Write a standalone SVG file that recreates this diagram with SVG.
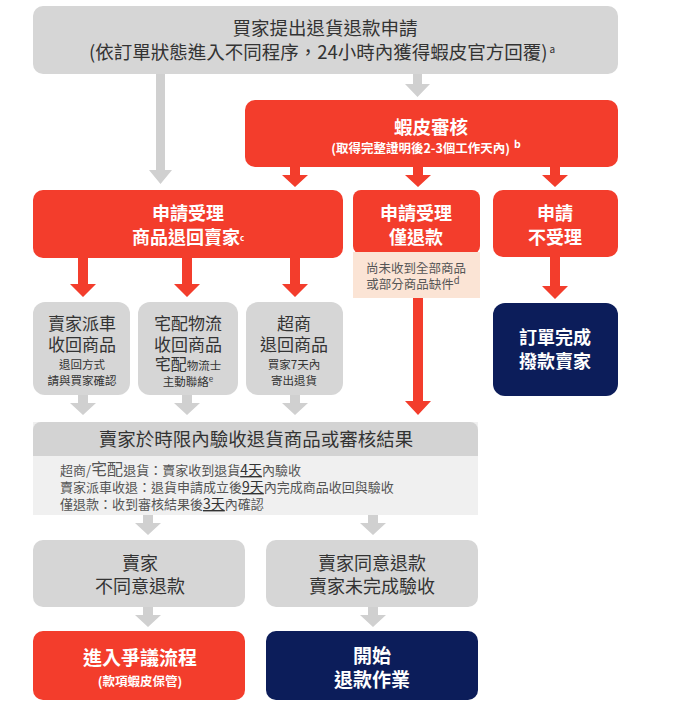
<svg xmlns="http://www.w3.org/2000/svg" width="679" height="726" viewBox="0 0 679 726">
<defs>
<style>
text{font-family:"Noto Sans CJK TC","Noto Sans CJK SC",sans-serif;text-anchor:middle}
.g{fill:#d6d6d6}
.r{fill:#f33d2c}
.n{fill:#0c1d5a}
.dk{fill:#333}
.w{fill:#fff;font-weight:bold}
.t18{font-size:18px}
.t17{font-size:17px}
.s11{font-size:11.5px}
.ga{fill:#d0d0d0}
.ra{fill:#f33d2c}
.l{text-anchor:start;font-size:13px;fill:#555}
.u{font-size:14px;fill:#333;text-decoration:underline}
</style>
</defs>
<rect width="679" height="726" fill="#fff"/>
<g id="connectors">
<path class="ga" d="M156 74h9v96h7l-11.5 14l-11.5-14h7z"/>
<path class="ga" d="M413 74h9v10h8l-12.5 13l-12.5-13h8z"/>
<path class="ra" d="M290 167h10v8h8l-13 12l-13-12h8z"/>
<path class="ra" d="M413 167h10v8h8l-13 12l-13-12h8z"/>
<path class="ra" d="M550 167h10v8h8l-13 12l-13-12h8z"/>
<path class="ra" d="M78 258h10v26h8l-13 13l-13-13h8z"/>
<path class="ra" d="M182 258h10v26h8l-13 13l-13-13h8z"/>
<path class="ra" d="M290 258h10v26h8l-13 13l-13-13h8z"/>
<path class="ra" d="M413 298h10v103h8l-13 14l-13-14h8z"/>
<path class="ra" d="M550 257h10v29h8l-13 13l-13-13h8z"/>
<path class="ga" d="M78 395h10v8h8l-13 12l-13-12h8z"/>
<path class="ga" d="M182 395h10v8h8l-13 12l-13-12h8z"/>
<path class="ga" d="M290 395h10v8h8l-13 12l-13-12h8z"/>
<path class="ga" d="M143 515h10v8h8l-13 12l-13-12h8z"/>
<path class="ga" d="M368 515h10v8h8l-13 12l-13-12h8z"/>
<path class="ga" d="M143 607h10v8h8l-13 12l-13-12h8z"/>
<path class="ga" d="M368 607h10v8h8l-13 12l-13-12h8z"/>
</g>
<g id="n-start">
<rect class="g" x="33" y="6" width="585" height="68" rx="10"/>
<text class="dk" font-size="18.5"><tspan x="325" y="35">買家提出退貨退款申請</tspan><tspan x="322" y="59">(依訂單狀態進入不同程序，24小時內獲得蝦皮官方回覆)</tspan><tspan font-size="10" dx="2" dy="-6">a</tspan></text>
</g>
<g id="n-review">
<rect class="r" x="245" y="100" width="373" height="67" rx="10"/>
<text class="w" font-size="18.5"><tspan x="431" y="134">蝦皮審核</tspan><tspan x="426" y="153" font-size="12.5">(取得完整證明後2-3個工作天內)</tspan><tspan font-size="10.5" dx="4" dy="-5">b</tspan></text>
</g>
<g id="n-return">
<rect class="r" x="33" y="190" width="310" height="68" rx="10"/>
<text class="w t18"><tspan x="188" y="220">申請受理</tspan><tspan x="188" y="244">商品退回賣家</tspan><tspan font-size="8" dy="-3">c</tspan></text>
</g>
<g id="n-refund">
<rect class="r" x="353" y="190" width="127" height="64" rx="8"/>
<rect x="353" y="252" width="127" height="46" fill="#fbe4d5"/>
<text class="w t18"><tspan x="416" y="220">申請受理</tspan><tspan x="416" y="244">僅退款</tspan></text>
<text font-size="12.5" fill="#555"><tspan x="416" y="273">尚未收到全部商品</tspan><tspan x="413" y="289">或部分商品缺件</tspan><tspan font-size="9.5" dy="-5">d</tspan></text>
</g>
<g id="n-reject">
<rect class="r" x="493" y="190" width="125" height="67" rx="10"/>
<text class="w t18"><tspan x="555" y="220">申請</tspan><tspan x="555" y="244">不受理</tspan></text>
</g>
<g id="n-pickup">
<rect class="g" x="33" y="302" width="97" height="93" rx="12"/>
<text class="dk t17"><tspan x="82" y="330">賣家派車</tspan><tspan x="82" y="351">收回商品</tspan><tspan class="s11" x="82" y="369">退回方式</tspan><tspan class="s11" x="82" y="385">請與買家確認</tspan></text>
</g>
<g id="n-delivery">
<rect class="g" x="138" y="302" width="100" height="93" rx="12"/>
<text class="dk t17"><tspan x="188" y="330">宅配物流</tspan><tspan x="188" y="351">收回商品</tspan><tspan x="188" y="370" font-size="16">宅配</tspan><tspan class="s11">物流士</tspan><tspan class="s11" x="188" y="386">主動聯絡</tspan><tspan font-size="8" dy="-4">e</tspan></text>
</g>
<g id="n-store">
<rect class="g" x="246" y="302" width="97" height="93" rx="12"/>
<text class="dk t17"><tspan x="294" y="330">超商</tspan><tspan x="294" y="351">退回商品</tspan><tspan class="s11" x="294" y="369">買家7天內</tspan><tspan class="s11" x="294" y="385">寄出退貨</tspan></text>
</g>
<g id="n-deadline">
<rect x="33" y="422" width="445" height="93" fill="#f0f0f0"/>
<path d="M33 456V430a8 8 0 0 1 8-8h429a8 8 0 0 1 8 8v26z" fill="#d3d3d3"/>
<text class="dk" x="256" y="446" font-size="18.5">賣家於時限內驗收退貨商品或審核結果</text>
<text class="l"><tspan x="60" y="475">超商/</tspan><tspan font-size="16">宅配</tspan><tspan>退貨：賣家收到退貨</tspan><tspan class="u">4天</tspan><tspan>內驗收</tspan><tspan x="60" y="492">賣家派車收退：退貨申請成立後</tspan><tspan class="u">9天</tspan><tspan>內完成商品收回與驗收</tspan><tspan x="60" y="509">僅退款：收到審核結果後</tspan><tspan class="u">3天</tspan><tspan>內確認</tspan></text>
</g>
<g id="n-disagree">
<rect class="g" x="33" y="540" width="212" height="67" rx="10"/>
<text class="dk t18"><tspan x="140" y="570">賣家</tspan><tspan x="140" y="593">不同意退款</tspan></text>
</g>
<g id="n-agree">
<rect class="g" x="266" y="540" width="212" height="67" rx="10"/>
<text class="dk t18"><tspan x="372" y="570">賣家同意退款</tspan><tspan x="372" y="593">賣家未完成驗收</tspan></text>
</g>
<g id="n-dispute">
<rect class="r" x="33" y="631" width="212" height="69" rx="10"/>
<text class="w" font-size="19"><tspan x="140" y="665">進入爭議流程</tspan><tspan x="140" y="686" font-size="12.5">(款項蝦皮保管)</tspan></text>
</g>
<g id="n-startrefund">
<rect class="n" x="266" y="631" width="212" height="69" rx="10"/>
<text class="w" font-size="19"><tspan x="372" y="663">開始</tspan><tspan x="372" y="687">退款作業</tspan></text>
</g>
<g id="n-complete">
<rect class="n" x="493" y="303" width="125" height="93" rx="12"/>
<text class="w t18"><tspan x="555" y="344">訂單完成</tspan><tspan x="555" y="368">撥款賣家</tspan></text>
</g>
</svg>
